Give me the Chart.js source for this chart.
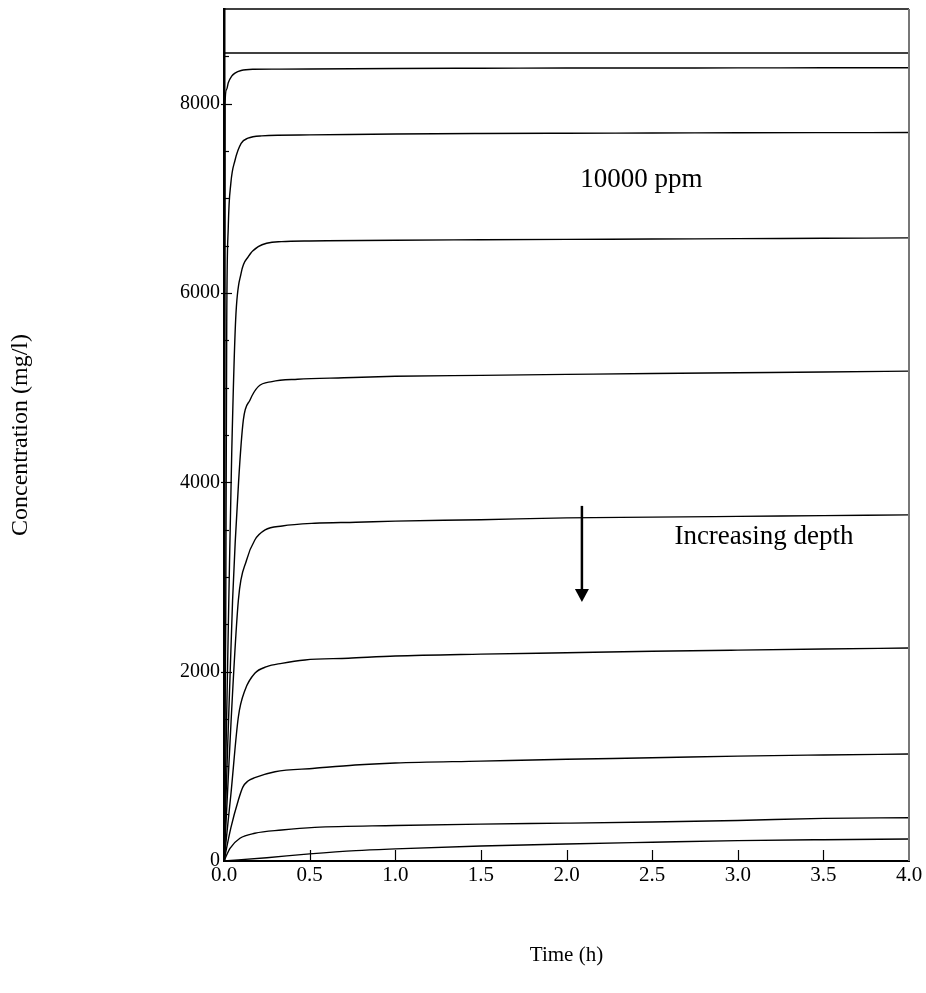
<!DOCTYPE html>
<html><head><meta charset="utf-8">
<script src="https://cdn.jsdelivr.net/npm/chart.js@4.4.1/dist/chart.umd.min.js"></script>
<style>html,body{margin:0;padding:0;background:#fff}#wrap{width:926px;height:993px;position:relative}</style>
</head><body><div id="wrap"><canvas id="c"></canvas></div>
<script>
// ---- data ----
const xTickLabels = ['0.0','0.5','1.0','1.5','2.0','2.5','3.0','3.5','4.0'];
const yTickLabels = ['0','2000','4000','6000','8000'];
const refLevel = 8535;           // flat upper line (input level)
const refTime = [0, 4];

const t1 = [0,0.006,0.015,0.025,0.045,0.064,0.1,0.17,0.3,0.5,1,1.5,2,2.5,3,3.5,4];
const c1 = [0,8000,8150,8220,8290,8322,8350,8363,8365,8366,8372,8374,8376,8377,8378,8379,8380];
const t2 = [0,0.01,0.016,0.025,0.04,0.064,0.1,0.14,0.22,0.5,1,1.5,2,2.5,3,3.5,4];
const c2 = [0,2500,5700,6700,7160,7400,7580,7635,7660,7670,7680,7685,7688,7690,7692,7694,7695];
const t3 = [0,0.028,0.045,0.068,0.1,0.142,0.2,0.336,0.5,1,1.5,2,2.5,3,3.5,4];
const c3 = [0,2750,4300,5716,6210,6385,6490,6543,6550,6558,6562,6566,6570,6574,6578,6582];
const t4 = [0,0.05,0.085,0.113,0.152,0.2,0.28,0.43,0.7,1,1.5,2,2.5,3,3.5,4];
const c4 = [0,2750,4000,4659,4870,5011,5064,5089,5105,5120,5130,5140,5150,5158,5166,5175];
const t5 = [0,0.084,0.132,0.18,0.24,0.34,0.53,0.77,1,1.5,2,2.5,3,3.5,4];
const c5 = [0,2757,3180,3391,3497,3539,3568,3578,3590,3605,3625,3632,3640,3648,3656];
const t6 = [0,0.04,0.084,0.123,0.18,0.25,0.337,0.473,0.726,1,1.5,2,2.5,3,3.5,4];
const c6 = [0,700,1524,1807,1983,2053,2088,2124,2142,2165,2185,2200,2215,2228,2240,2250];
const t7 = [0,0.04,0.084,0.11,0.14,0.18,0.298,0.53,0.765,1,1.5,2,2.5,3,3.5,4];
const c7 = [0,350,644,780,845,880,943,979,1014,1035,1055,1075,1090,1108,1120,1130];
const t8 = [0,0.035,0.093,0.18,0.337,0.53,1,1.5,2,2.5,3,3.5,4];
const c8 = [0,134,240,293,327,355,375,390,400,412,428,450,457];
const t9 = [0,0.25,0.5,0.77,1,1.5,2,2.5,3,3.5,4];
const c9 = [0,35,75,110,128,158,180,198,215,225,232];

const annotTexts = ['10000 ppm','Increasing depth'];
const annotX = [2.08, 2.63];
const annotY = [7195, 3423];
const arrowX = 2.09, arrowFrom = 3751, arrowTo = 2736;

// ---- build ----
const serif = '"Liberation Serif","Times New Roman",serif';
const pts = (t, c) => t.map((v, i) => ({x: v, y: c[i]}));
const series = [
  pts(refTime, [refLevel, refLevel]),
  pts(t1,c1), pts(t2,c2), pts(t3,c3), pts(t4,c4), pts(t5,c5), pts(t6,c6), pts(t7,c7), pts(t8,c8), pts(t9,c9)
];
const datasets = series.map(d => ({
  data: d, borderColor: '#000', borderWidth: 1.4, pointRadius: 0,
  cubicInterpolationMode: 'monotone', fill: false
}));

const extras = {
  id: 'extras',
  afterDraw(chart) {
    const {ctx, chartArea: a, scales: {x, y}} = chart;
    ctx.save();
    // top & right frame
    ctx.strokeStyle = '#000'; ctx.lineWidth = 1.5;
    ctx.beginPath(); ctx.moveTo(a.left, a.top); ctx.lineTo(a.right, a.top); ctx.stroke();
    ctx.strokeStyle = '#777'; ctx.lineWidth = 2;
    ctx.beginPath(); ctx.moveTo(a.right, a.top); ctx.lineTo(a.right, a.bottom); ctx.stroke();
    // inward ticks
    ctx.strokeStyle = '#000'; ctx.lineWidth = 1.2;
    for (let v = 500; v < 9000; v += 500) {
      const py = Math.round(y.getPixelForValue(v)) + 0.5;
      const major = v % 2000 === 0;
      ctx.beginPath(); ctx.moveTo(a.left - (major ? 3 : 0), py); ctx.lineTo(a.left + (major ? 8 : 5), py); ctx.stroke();
    }
    for (let i = 1; i < xTickLabels.length - 1; i++) {
      const px = Math.round(x.getPixelForValue(parseFloat(xTickLabels[i]))) + 0.5;
      ctx.beginPath(); ctx.moveTo(px, a.bottom); ctx.lineTo(px, a.bottom - 11); ctx.stroke();
    }
    // annotations
    ctx.fillStyle = '#000';
    ctx.font = '27px ' + serif;
    ctx.textBaseline = 'middle'; ctx.textAlign = 'left';
    annotTexts.forEach((s, i) => ctx.fillText(s, x.getPixelForValue(annotX[i]), y.getPixelForValue(annotY[i])));
    // arrow
    const ax = x.getPixelForValue(arrowX), ay0 = y.getPixelForValue(arrowFrom), ay1 = y.getPixelForValue(arrowTo);
    ctx.lineWidth = 2.5;
    ctx.beginPath(); ctx.moveTo(ax, ay0); ctx.lineTo(ax, ay1 - 10); ctx.stroke();
    ctx.beginPath(); ctx.moveTo(ax - 7, ay1 - 13); ctx.lineTo(ax + 7, ay1 - 13); ctx.lineTo(ax, ay1); ctx.closePath(); ctx.fill();
    ctx.restore();
  }
};

new Chart(document.getElementById('c'), {
  type: 'line',
  data: { datasets },
  options: {
    responsive: true, maintainAspectRatio: false, animation: false,
    layout: { padding: { left: 6, right: 17, top: 9, bottom: 0 } },
    plugins: { legend: { display: false }, tooltip: { enabled: false } },
    scales: {
      x: {
        type: 'linear', min: 0, max: 4,
        afterFit: s => { s.height = 132; s.paddingLeft = 0; s.paddingRight = 0; },
        grid: { display: false, drawTicks: false },
        border: { display: true, color: '#000', width: 2 },
        ticks: { stepSize: 0.5, autoSkip: false, maxRotation: 0, padding: 2, color: '#000',
          font: { family: serif, size: 21 },
          callback: (v) => { const s = Number(v).toFixed(1); return xTickLabels.includes(s) ? s : ''; } },
        title: { display: true, text: 'Time (h)', color: '#000', font: { family: serif, size: 21 }, padding: { top: 0, bottom: 25 } }
      },
      y: {
        type: 'linear', min: 0, max: 9000,
        afterFit: s => { s.width = 218; s.paddingTop = 0; s.paddingBottom = 0; },
        grid: { display: false, drawTicks: false },
        border: { display: true, color: '#000', width: 2.5 },
        ticks: { stepSize: 500, autoSkip: false, padding: 4, color: '#000',
          font: { family: serif, size: 20 },
          callback: (v) => { const s = String(v); return yTickLabels.includes(s) ? s : ''; } },
        title: { display: true, text: 'Concentration (mg/l)', color: '#000', font: { family: serif, size: 24 }, padding: { top: 0, bottom: 0 } }
      }
    }
  },
  plugins: [extras]
});
</script></body></html>
